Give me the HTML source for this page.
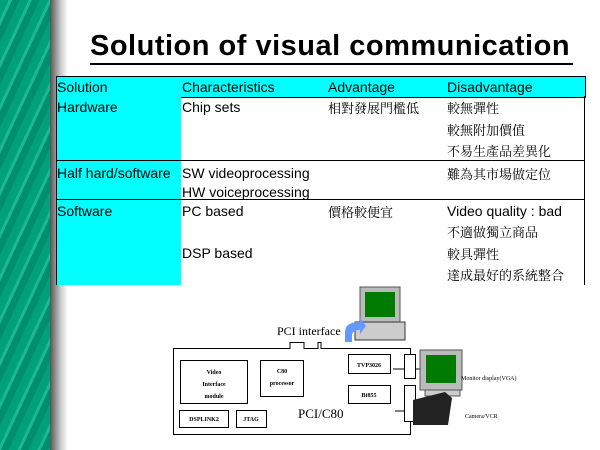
<!DOCTYPE html><html><head><style>
body{margin:0;width:600px;height:450px;background:#fff;position:relative;overflow:hidden;font-family:"Liberation Sans","Noto Sans CJK TC",sans-serif}
.a{position:absolute;white-space:nowrap}
.t{font-size:14px;color:#000}
.c{font-family:"Liberation Serif","Noto Serif CJK SC",serif;font-size:13px}
</style></head><body>
<div class="a" style="left:0;top:0;width:50px;height:450px;background:repeating-linear-gradient(115deg,#00a07c 0 8px,#1cb894 8px 11px,#008f6e 11px 18px)"></div>
<div class="a" style="left:50px;top:0;width:18px;height:450px;background:linear-gradient(90deg,#555,#ccc 60%,#fff)"></div>
<div class="a" style="left:90px;top:30px;font-size:29px;font-weight:bold;letter-spacing:0.5px">Solution of visual communication</div>
<div class="a" style="left:90px;top:63px;width:483px;height:2px;background:#000"></div>
<div class="a" style="left:56px;top:76px;width:528px;height:20px;background:#00ffff;border:1px solid #000"></div>
<div class="a" style="left:56px;top:97px;width:125px;height:188px;background:#00ffff"></div>
<div class="a" style="left:56px;top:96px;width:1px;height:189px;background:#000"></div>
<div class="a" style="left:584px;top:96px;width:1px;height:189px;background:#000"></div>
<div class="a" style="left:56px;top:160px;width:529px;height:1px;background:#000"></div>
<div class="a" style="left:56px;top:199px;width:529px;height:1px;background:#000"></div>
<div class="a t" style="left:57px;top:79px">Solution</div>
<div class="a t" style="left:182px;top:79px">Characteristics</div>
<div class="a t" style="left:328px;top:79px">Advantage</div>
<div class="a t" style="left:447px;top:79px">Disadvantage</div>
<div class="a t" style="left:57px;top:99px">Hardware</div>
<div class="a t" style="left:182px;top:99px">Chip sets</div>
<div class="a c" style="left:328px;top:98px">相對發展門檻低</div>
<div class="a c" style="left:447px;top:98px">較無彈性</div>
<div class="a c" style="left:447px;top:120px">較無附加價值</div>
<div class="a c" style="left:447px;top:141px">不易生產品差異化</div>
<div class="a t" style="left:57px;top:165px">Half hard/software</div>
<div class="a t" style="left:182px;top:165px">SW videoprocessing</div>
<div class="a t" style="left:182px;top:184px">HW voiceprocessing</div>
<div class="a c" style="left:447px;top:164px">難為其市場做定位</div>
<div class="a t" style="left:57px;top:203px">Software</div>
<div class="a t" style="left:182px;top:203px">PC based</div>
<div class="a c" style="left:328px;top:202px">價格較便宜</div>
<div class="a t" style="left:447px;top:203px">Video quality : bad</div>
<div class="a c" style="left:447px;top:222px">不適做獨立商品</div>
<div class="a t" style="left:182px;top:245px">DSP based</div>
<div class="a c" style="left:447px;top:244px">較具彈性</div>
<div class="a c" style="left:447px;top:265px">達成最好的系統整合</div>
<svg class="a" style="left:0;top:0" width="600" height="450">
<g fill="none" stroke="#000" stroke-width="1">
<path d="M410.5,354V348.5H321V342.5H318V348.5H304V342.5H290V348.5H173.5V434.5H410.5V422"/>
<rect x="180.5" y="360.5" width="67" height="43"/>
<rect x="260.5" y="360.5" width="43" height="36"/>
<rect x="179.5" y="410.5" width="49" height="17"/>
<rect x="236.5" y="410.5" width="30" height="17"/>
<rect x="348.5" y="354.5" width="42" height="19"/>
<rect x="348.5" y="385.5" width="42" height="18"/>
<rect x="404.5" y="354.5" width="11" height="24" fill="#fff"/>
<rect x="404.5" y="385.5" width="11" height="36" fill="#fff"/>
<path d="M393,369H404M395,411H404M416,369H420"/>
</g>
<rect x="360" y="287" width="40" height="35" fill="#bbb" stroke="#555"/>
<rect x="365" y="292" width="30" height="25" fill="#007a00"/>
<rect x="355" y="322" width="50" height="18" fill="#ccc" stroke="#333"/>
<path d="M345,342V332Q345,322 360,322V318L366,326L360,334V330Q352,330 352,336V342Z" fill="#6699ff"/>
<rect x="420" y="350" width="42" height="40" fill="#bbb" stroke="#555"/>
<rect x="426" y="355" width="30" height="28" fill="#007a00"/>
<rect x="425" y="390" width="35" height="6" fill="#ccc" stroke="#555"/>
<path d="M413,400L445,392L452,398L448,425L413,425Z" fill="#222"/>
<text x="461" y="380" font-family="Liberation Serif" font-size="6">Monitor display(VGA)</text>
<text x="465" y="418" font-family="Liberation Serif" font-size="6">Camera/VCR</text>
<text x="277" y="335" font-family="Liberation Serif" font-size="12">PCI interface</text>
<text x="298" y="418" font-family="Liberation Serif" font-size="13">PCI/C80</text>
<g font-family="Liberation Serif" font-size="6" font-weight="bold" text-anchor="middle">
<text x="214" y="374">Video</text><text x="214" y="386">Interface</text><text x="214" y="398">module</text>
<text x="282" y="373">C80</text><text x="282" y="385">processor</text>
<text x="204" y="421">DSPLINK2</text><text x="251" y="421">JTAG</text>
<text x="369" y="367">TVP3026</text><text x="369" y="397">Bt855</text>
</g>
</svg>
</body></html>
